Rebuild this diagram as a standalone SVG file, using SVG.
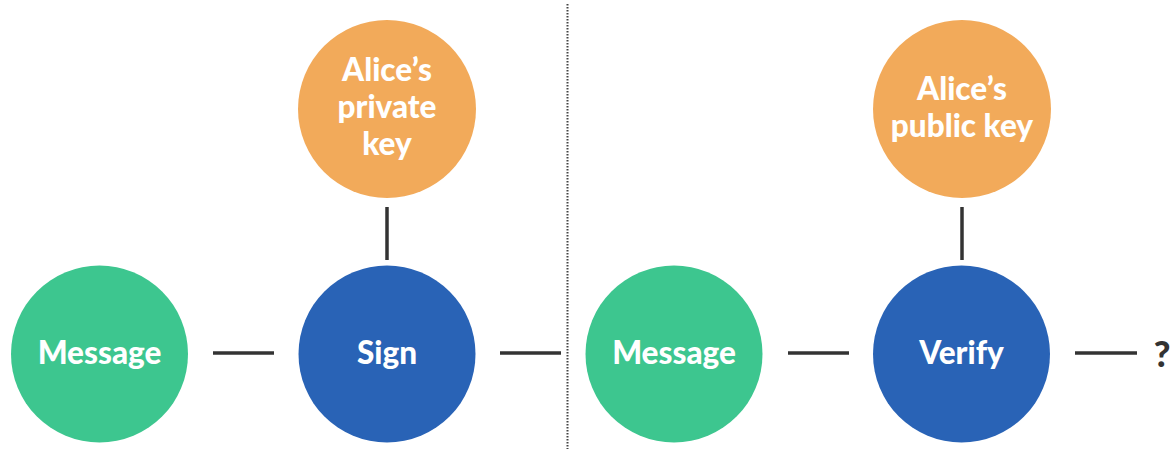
<svg xmlns="http://www.w3.org/2000/svg" width="1176" height="449" viewBox="0 0 1176 449">
  <style>
    .msg { fill: #3DC68F; }
    .op { fill: #2963B6; }
    .key { fill: #F2AA5A; }
    .lbl { fill: #ffffff; font-family: Lato, "Open Sans", sans-serif; font-weight: 900; font-size: 31.5px; text-anchor: middle; }
    .wire { stroke: #333333; stroke-width: 3.5; fill: none; }
    .divider { stroke: #444444; stroke-width: 2; stroke-dasharray: 1.5 1.5; fill: none; }
  </style>

  <!-- separator between signing and verifying -->
  <line class="divider" x1="567.5" y1="4" x2="567.5" y2="449"/>

  <g id="connectors">
    <line class="wire" x1="213" y1="353" x2="274" y2="353"/>
    <line class="wire" x1="387" y1="207" x2="387" y2="260"/>
    <line class="wire" x1="500" y1="353" x2="561" y2="353"/>
    <line class="wire" x1="788" y1="353" x2="849" y2="353"/>
    <line class="wire" x1="962" y1="207" x2="962" y2="260"/>
    <line class="wire" x1="1075" y1="353" x2="1137" y2="353"/>
  </g>

  <g id="message-sign">
    <circle class="msg" cx="99.5" cy="354" r="88.5"/>
    <text class="lbl" x="99.5" y="364">Message</text>
  </g>

  <g id="sign">
    <circle class="op" cx="387" cy="354" r="88.5"/>
    <text class="lbl" x="387" y="364">Sign</text>
  </g>

  <g id="private-key">
    <circle class="key" cx="387" cy="109" r="89"/>
    <text class="lbl" x="387" y="81">Alice’s</text>
    <text class="lbl" x="387" y="118">private</text>
    <text class="lbl" x="387" y="155">key</text>
  </g>

  <g id="message-verify">
    <circle class="msg" cx="674" cy="354" r="88.5"/>
    <text class="lbl" x="674" y="364">Message</text>
  </g>

  <g id="verify">
    <circle class="op" cx="961.5" cy="354" r="88.5"/>
    <text class="lbl" x="961.5" y="364">Verify</text>
  </g>

  <g id="public-key">
    <circle class="key" cx="962" cy="109" r="89"/>
    <text class="lbl" x="962" y="100">Alice’s</text>
    <text class="lbl" x="962" y="137">public key</text>
  </g>

  <g id="result">
    <text x="1162" y="367" fill="#333333" font-family="Lato, sans-serif" font-weight="900" font-size="36" text-anchor="middle">?</text>
  </g>
</svg>
